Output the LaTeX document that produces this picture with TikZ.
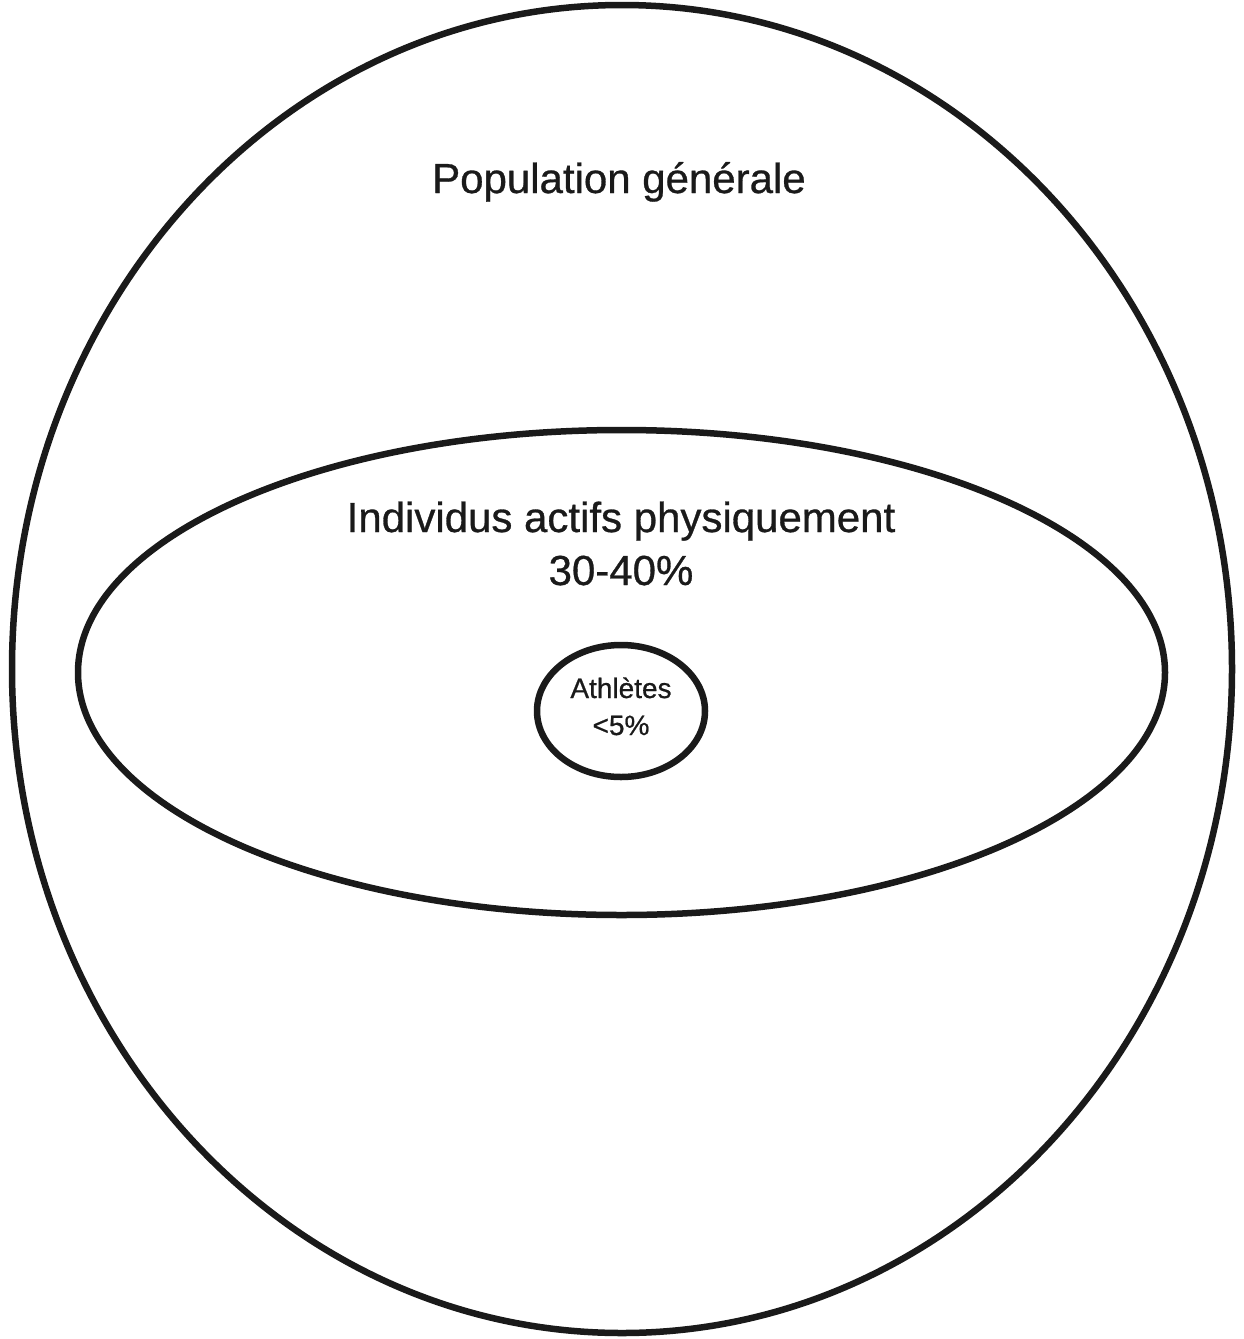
\documentclass[tikz,border=0pt]{standalone}
\usepackage{fontspec}
\setmainfont{Liberation Sans}[FakeBold=0.7]
\newfontfamily\textink{Liberation Sans}[FakeBold=0.7]
\definecolor{ink}{HTML}{1A1A1A}
\begin{document}
\begin{tikzpicture}[x=1pt,y=-1pt,
  ring/.style={draw=ink,line width=6.5pt},
  label/.style={text=ink,inner sep=0pt,anchor=base},
  big/.style={label,font=\textink\fontsize{42}{50}\selectfont},
  small/.style={label,font=\textink\fontsize{28}{34}\selectfont}]
\useasboundingbox (0,0) rectangle (1243,1339);
% nested populations
\draw[ring] (622,669) ellipse [x radius=610,y radius=664];
\draw[ring] (621.5,672.5) ellipse [x radius=543.5,y radius=242.5];
\draw[ring] (621,711) ellipse [x radius=84,y radius=66];
% labels
\node[big] (pop) at (619,193) {Population générale};
\node[big] (act) at (621,532) {Individus actifs physiquement};
\node[big] (actp) at (621,585) {30-40\%};
\node[small] (ath) at (621,698) {Athlètes};
\node[small] (athp) at (621,735) {<5\%};
\end{tikzpicture}
\end{document}
